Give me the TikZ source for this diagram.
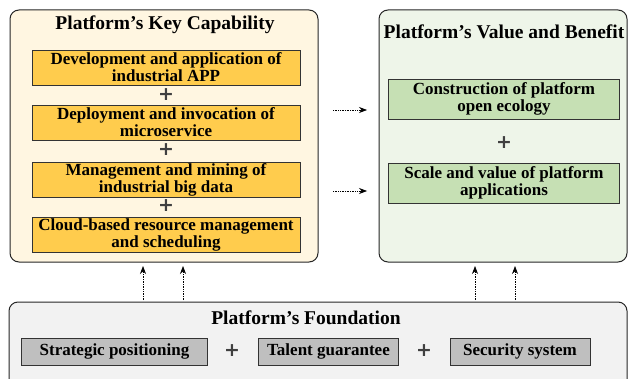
\documentclass[tikz,border=0pt]{standalone}
\usepackage{fontspec}
\setmainfont{Liberation Serif}
\newfontfamily\plusfont{DejaVu Sans}
\usetikzlibrary{arrows.meta}
\definecolor{KCBack}{HTML}{FFF6E1}
\definecolor{KCGold}{HTML}{FFCC4D}
\definecolor{VBBack}{HTML}{EEF5E9}
\definecolor{VBGreen}{HTML}{C6E0B4}
\definecolor{FDBack}{HTML}{F2F2F2}
\definecolor{FDGray}{HTML}{BFBFBF}
\definecolor{PlusGray}{HTML}{404040}

\begin{document}
\begin{tikzpicture}[
    x=1pt, y=-1pt,
    font=\bfseries,
    % default arrow tip
    >=Stealth,
    panel/.style={draw=black!85, line width=1pt, rounded corners=9pt},
    title/.style={font=\fontsize{19.5}{20}\selectfont\bfseries, inner sep=0pt},
    item/.style={draw=black!80, line width=0.8pt, align=center, inner sep=0pt,
        font=\fontsize{17}{17}\selectfont\bfseries},
    capbox/.style={item, fill=KCGold, minimum width=268pt, minimum height=35pt},
    valbox/.style={item, fill=VBGreen, minimum width=231pt, minimum height=40pt},
    basebox/.style={item, fill=FDGray, minimum height=27pt},
    plus/.style={text=PlusGray, font=\plusfont\fontsize{19}{19}\selectfont\bfseries,
        inner sep=0pt, text height=0.62em, text depth=-0.04em},
    link/.style={densely dotted, line width=0.7pt, -{Stealth[length=8pt, width=6pt]}}
]

    \useasboundingbox (0,0) rectangle (628,379);
    \clip (0,0) rectangle (628,379);

    % --- 1. panels ---
    \filldraw[panel, fill=KCBack] (10,10) rectangle (318,262);
    \filldraw[panel, fill=VBBack] (379,10) rectangle (627,262);
    \filldraw[panel, fill=FDBack] (9,302) rectangle (627,392);

    % --- 2. key capability ---
    \node[title] (kc) at (165,25) {Platform's Key Capability};
    \node[capbox] (kc1) at (166,67.5) {Development and application of\\industrial APP};
    \node[capbox] (kc2) at (166,122.5) {Deployment and invocation of\\microservice};
    \node[capbox] (kc3) at (166,179.5) {Management and mining of\\industrial big data};
    \node[capbox] (kc4) at (166,234.5) {Cloud-based resource management\\and scheduling};
    \foreach \k/\y in {1/97, 2/152.5, 3/208.5} {
        \node[plus] (kcp\k) at (166,\y) {+};
    }

    % --- 3. value and benefit ---
    \node[title] (vb) at (504,32) {Platform's Value and Benefit};
    \node[valbox] (vb1) at (504,99) {Construction of platform\\open ecology};
    \node[valbox] (vb2) at (504,183) {Scale and value of platform\\applications};
    \node[plus] (vbp) at (504,145) {+};

    % --- 4. foundation ---
    \node[title] (fd) at (306,318) {Platform's Foundation};
    \node[basebox, minimum width=186pt] (fd1) at (114.5,351.5) {Strategic positioning};
    \node[basebox, minimum width=140pt] (fd2) at (328.5,351.5) {Talent guarantee};
    \node[basebox, minimum width=140pt] (fd3) at (520,351.5) {Security system};
    \node[plus] (fdp1) at (232,353) {+};
    \node[plus] (fdp2) at (424,353) {+};

    % --- 5. dotted arrows ---
    \foreach \k/\y in {1/110, 2/191} {
        \coordinate (hs\k) at (333,\y);
        \coordinate (he\k) at (367,\y);
        \draw[link] (hs\k) -- (he\k);
    }
    \foreach \k/\x in {1/143, 2/183, 3/475, 4/515} {
        \coordinate (vs\k) at (\x,300);
        \coordinate (ve\k) at (\x,266);
        \draw[link] (vs\k) -- (ve\k);
    }

\end{tikzpicture}
\end{document}
